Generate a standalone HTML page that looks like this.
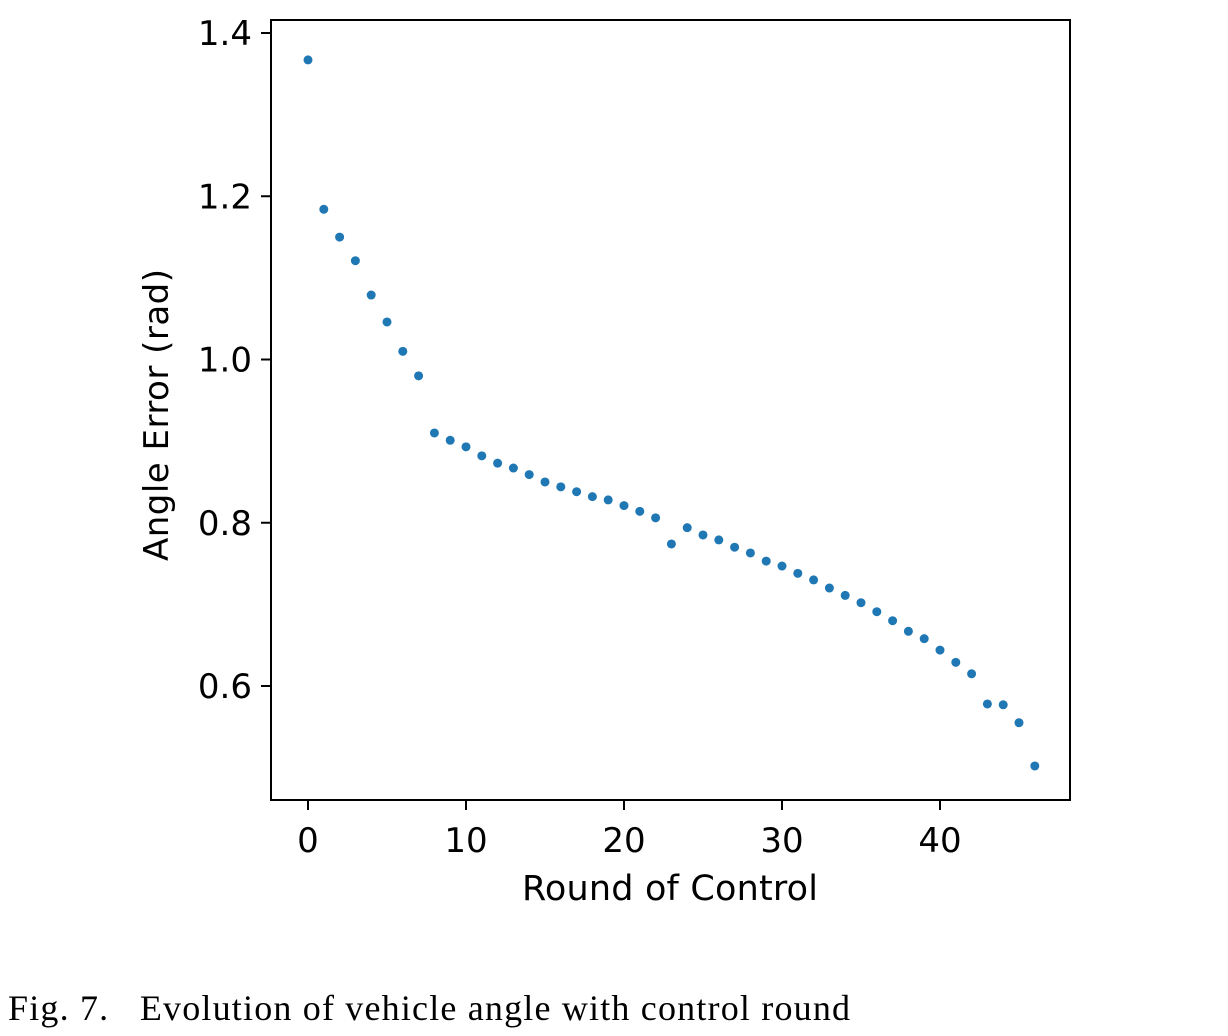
<!DOCTYPE html>
<html><head><meta charset="utf-8"><style>
body{margin:0;background:#fff;width:1228px;height:1036px;overflow:hidden}
svg{display:block}
</style></head><body>
<svg id="chart" width="1228" height="1036">
<rect x="271" y="20" width="799" height="780" fill="none" stroke="#000" stroke-width="2"/>
<g id="xt"></g>
<g id="yt"></g>
<g id="pts"></g>
<text x="670" y="900" font-family="DejaVu Sans, sans-serif" font-size="35" text-anchor="middle" textLength="296">Round of Control</text>
<text transform="translate(168,415) rotate(-90)" font-family="DejaVu Sans, sans-serif" font-size="34" text-anchor="middle" textLength="292">Angle Error (rad)</text>
<text x="8" y="1020" font-family="Liberation Serif, serif" font-size="36" textLength="842" lengthAdjust="spacing" xml:space="preserve">Fig. 7.   Evolution of vehicle angle with control round</text>
</svg>
<script>
const rounds=[0,1,2,3,4,5,6,7,8,9,10,11,12,13,14,15,16,17,18,19,20,21,22,23,24,25,26,27,28,29,30,31,32,33,34,35,36,37,38,39,40,41,42,43,44,45,46];
const angleError=[1.367,1.184,1.150,1.121,1.079,1.046,1.010,0.980,0.910,0.901,0.893,0.882,0.873,0.867,0.859,0.850,0.844,0.838,0.832,0.828,0.821,0.814,0.806,0.774,0.794,0.785,0.779,0.770,0.763,0.753,0.747,0.738,0.730,0.720,0.711,0.702,0.691,0.680,0.667,0.658,0.644,0.629,0.615,0.578,0.577,0.555,0.502];
const xTicks=[0,10,20,30,40];
const yTicks=[0.6,0.8,1.0,1.2,1.4];
const NS='http://www.w3.org/2000/svg';
const sx=v=>308+v*15.8;
const sy=v=>33+(1.4-v)*816.25;
function mk(t,a,p){const e=document.createElementNS(NS,t);for(const k in a)e.setAttribute(k,a[k]);p.appendChild(e);return e;}
const xt=document.getElementById('xt'),yt=document.getElementById('yt'),pts=document.getElementById('pts');
xTicks.forEach(v=>{
 const l=mk('line',{x1:sx(v),x2:sx(v),y1:800,y2:810,stroke:'#000','stroke-width':2},xt);
 
 
 const t=mk('text',{x:sx(v),y:852,'font-family':'DejaVu Sans, sans-serif','font-size':34,'text-anchor':'middle'},xt);
 t.textContent=v;
 
 
});
yTicks.forEach(v=>{
 const l=mk('line',{x1:261,x2:271,y1:sy(v),y2:sy(v),stroke:'#000','stroke-width':2},yt);
 
 
 const t=mk('text',{x:252,y:sy(v)+12,'font-family':'DejaVu Sans, sans-serif','font-size':34,'text-anchor':'end'},yt);
 t.textContent=v.toFixed(1);
 
 
});
rounds.forEach((r,i)=>{
 const c=mk('circle',{cx:sx(r),cy:sy(angleError[i]),r:4.5,fill:'#1f77b4'},pts);
 
 
});
</script>
</body></html>
